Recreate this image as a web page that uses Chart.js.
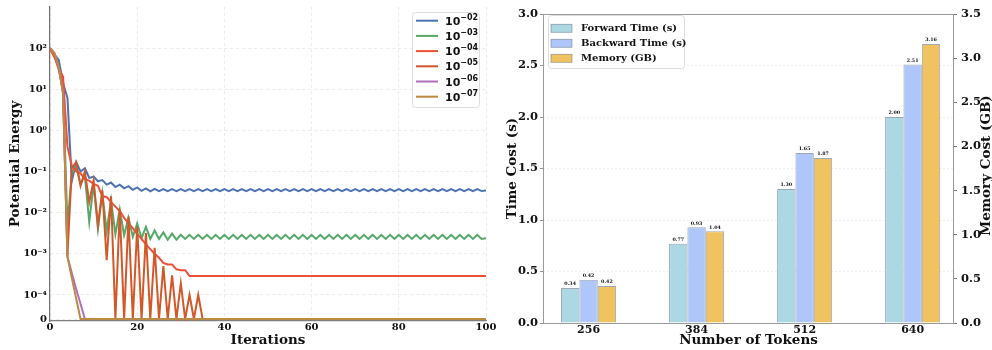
<!DOCTYPE html>
<html>
<head>
<meta charset="utf-8">
<script src="https://cdn.jsdelivr.net/npm/chart.js@4.4.1/dist/chart.umd.min.js"></script>
<style>
  html, body { margin: 0; padding: 0; background: #fff; }
  #wrap { position: relative; width: 992px; height: 350px; overflow: hidden; }
  canvas { position: absolute; top: 0; }
  #energy { left: 0; }
  #cost { left: 496px; }
</style>
</head>
<body>
<div id="wrap">
  <canvas id="energy" width="496" height="350"></canvas>
  <canvas id="cost" width="496" height="350"></canvas>
</div>
<script>
// ---------- left panel: potential energy per iteration (symlog y) ----------
const STEP_EXPONENTS = ['\u221202', '\u221203', '\u221204', '\u221205', '\u221206', '\u221207'];
const STEP_COLORS = ['#4c72b0', '#55a868', '#f0503a', '#d2582a', '#b070b8', '#bc8a42'];

const ENERGY_1E2 = [
  100, 70, 52, 14, 6.2, 0.058, 0.17, 0.1, 0.12, 0.07,
  0.075, 0.058, 0.062, 0.048, 0.054, 0.042, 0.048, 0.039, 0.044, 0.036,
  0.041, 0.034, 0.039, 0.033, 0.038, 0.0335, 0.0372, 0.0335, 0.0372, 0.0335,
  0.0372, 0.0335, 0.0372, 0.0335, 0.0372, 0.0335, 0.0372, 0.0335, 0.0372, 0.0335,
  0.0372, 0.0335, 0.0372, 0.0335, 0.0372, 0.0335, 0.0372, 0.0335, 0.0372, 0.0335,
  0.0372, 0.0335, 0.0372, 0.0335, 0.0372, 0.0335, 0.0372, 0.0335, 0.0372, 0.0335,
  0.0372, 0.0335, 0.0372, 0.0335, 0.0372, 0.0335, 0.0372, 0.0335, 0.0372, 0.0335,
  0.0372, 0.0335, 0.0372, 0.0335, 0.0372, 0.0335, 0.0372, 0.0335, 0.0372, 0.0335,
  0.0372, 0.0335, 0.0372, 0.0335, 0.0372, 0.0335, 0.0372, 0.0335, 0.0372, 0.0335,
  0.0372, 0.0335, 0.0372, 0.0335, 0.0372, 0.0335, 0.0372, 0.0335, 0.0372, 0.0335,
  0.0345
];
const ENERGY_1E3 = [
  100, 70, 30, 9, 0.005, 0.09, 0.13, 0.05, 0.08, 0.006,
  0.05, 0.004, 0.03, 0.0035, 0.02, 0.003, 0.012, 0.0028, 0.0075, 0.0026,
  0.0055, 0.0024, 0.0045, 0.0023, 0.0037, 0.0023, 0.0033, 0.0022, 0.0031, 0.0022,
  0.0029, 0.0023, 0.0029, 0.0023, 0.0029, 0.0023, 0.0029, 0.0023, 0.0029, 0.0023,
  0.0029, 0.0023, 0.0029, 0.0023, 0.0029, 0.0023, 0.0029, 0.0023, 0.0029, 0.0023,
  0.0029, 0.0023, 0.0029, 0.0023, 0.0029, 0.0023, 0.0029, 0.0023, 0.0029, 0.0023,
  0.0029, 0.0023, 0.0029, 0.0023, 0.0029, 0.0023, 0.0029, 0.0023, 0.0029, 0.0023,
  0.0029, 0.0023, 0.0029, 0.0023, 0.0029, 0.0023, 0.0029, 0.0023, 0.0029, 0.0023,
  0.0029, 0.0023, 0.0029, 0.0023, 0.0029, 0.0023, 0.0029, 0.0023, 0.0029, 0.0023,
  0.0029, 0.0023, 0.0029, 0.0023, 0.0029, 0.0023, 0.0029, 0.0023, 0.0029, 0.0023,
  0.0024
];
const ENERGY_1E4 = [
  95, 60, 32, 20, 0.4, 0.14, 0.1, 0.09, 0.065, 0.06,
  0.05, 0.045, 0.025, 0.024, 0.018, 0.014, 0.011, 0.0075, 0.0055, 0.0042,
  0.003, 0.0023, 0.0017, 0.0013, 0.001, 0.0008, 0.0006, 0.00055, 0.00055, 0.00042,
  0.0004, 0.0004, 0.00029, 0.00029, 0.00029, 0.00029, 0.00029, 0.00029, 0.00029, 0.00029,
  0.00029, 0.00029, 0.00029, 0.00029, 0.00029, 0.00029, 0.00029, 0.00029, 0.00029, 0.00029,
  0.00029, 0.00029, 0.00029, 0.00029, 0.00029, 0.00029, 0.00029, 0.00029, 0.00029, 0.00029,
  0.00029, 0.00029, 0.00029, 0.00029, 0.00029, 0.00029, 0.00029, 0.00029, 0.00029, 0.00029,
  0.00029, 0.00029, 0.00029, 0.00029, 0.00029, 0.00029, 0.00029, 0.00029, 0.00029, 0.00029,
  0.00029, 0.00029, 0.00029, 0.00029, 0.00029, 0.00029, 0.00029, 0.00029, 0.00029, 0.00029,
  0.00029, 0.00029, 0.00029, 0.00029, 0.00029, 0.00029, 0.00029, 0.00029, 0.00029, 0.00029,
  0.00029
];
const ENERGY_1E5 = [
  100, 75, 35, 8, 0.0009, 0.12, 0.17, 0.045, 0.1, 0.018,
  0.06, 0.005, 0.035, 0.0007, 0.025, 0, 0.012, 0, 0.008, 0,
  0.0046, 0, 0.0032, 0, 0.0014, 0, 0.0005, 0, 0.0003, 0,
  0.00019, 0, 0.0001, 0, 0.0001, 0, 0, 0, 0, 0,
  0, 0, 0, 0, 0, 0, 0, 0, 0, 0,
  0, 0, 0, 0, 0, 0, 0, 0, 0, 0,
  0, 0, 0, 0, 0, 0, 0, 0, 0, 0,
  0, 0, 0, 0, 0, 0, 0, 0, 0, 0,
  0, 0, 0, 0, 0, 0, 0, 0, 0, 0,
  0, 0, 0, 0, 0, 0, 0, 0, 0, 0,
  0
];
const ENERGY_1E6 = [
  100, 75, 35, 8.5, 0.00085, 0.00034, 0.00014, 0.000063, 0, 0,
  0, 0, 0, 0, 0, 0, 0, 0, 0, 0,
  0, 0, 0, 0, 0, 0, 0, 0, 0, 0,
  0, 0, 0, 0, 0, 0, 0, 0, 0, 0,
  0, 0, 0, 0, 0, 0, 0, 0, 0, 0,
  0, 0, 0, 0, 0, 0, 0, 0, 0, 0,
  0, 0, 0, 0, 0, 0, 0, 0, 0, 0,
  0, 0, 0, 0, 0, 0, 0, 0, 0, 0,
  0, 0, 0, 0, 0, 0, 0, 0, 0, 0,
  0, 0, 0, 0, 0, 0, 0, 0, 0, 0,
  0
];
const ENERGY_1E7 = [
  100, 75, 35, 8, 0.00085, 0.00026, 0.000085, 0, 0, 0,
  0, 0, 0, 0, 0, 0, 0, 0, 0, 0,
  0, 0, 0, 0, 0, 0, 0, 0, 0, 0,
  0, 0, 0, 0, 0, 0, 0, 0, 0, 0,
  0, 0, 0, 0, 0, 0, 0, 0, 0, 0,
  0, 0, 0, 0, 0, 0, 0, 0, 0, 0,
  0, 0, 0, 0, 0, 0, 0, 0, 0, 0,
  0, 0, 0, 0, 0, 0, 0, 0, 0, 0,
  0, 0, 0, 0, 0, 0, 0, 0, 0, 0,
  0, 0, 0, 0, 0, 0, 0, 0, 0, 0,
  0
];
const ENERGY_TICKS = [0, 1e-4, 1e-3, 1e-2, 1e-1, 1, 10, 100];

// ---------- right panel: cost per token count ----------
const TOKENS = [256, 384, 512, 640];
const FORWARD_TIME = [0.34, 0.77, 1.30, 2.00];
const BACKWARD_TIME = [0.42, 0.93, 1.65, 2.51];
const MEMORY_GB = [0.42, 1.04, 1.87, 3.16];

const SERIF = '"DejaVu Serif", serif';
const SANS = '"DejaVu Sans", sans-serif';

// symlog transform, linear part below 1e-4 takes ~0.585 decades
const LIN_THRESH = 1e-4, LIN_SCALE = 0.585;
function symT(v) {
  const a = Math.abs(v);
  const t = a <= LIN_THRESH ? a / LIN_THRESH * LIN_SCALE : LIN_SCALE + Math.log10(a / LIN_THRESH);
  return v < 0 ? -t : t;
}
function symInv(t) {
  const a = Math.abs(t);
  const v = a <= LIN_SCALE ? a / LIN_SCALE * LIN_THRESH : LIN_THRESH * Math.pow(10, a - LIN_SCALE);
  return t < 0 ? -v : v;
}

class SymlogScale extends Chart.LinearScale {
  buildTicks() {
    return ENERGY_TICKS.map(v => ({ value: v }));
  }
  configure() {
    super.configure();
    this._tLo = symT(this.min);
    this._tHi = symT(this.max);
  }
  getPixelForValue(v) {
    return this.getPixelForDecimal((symT(v) - this._tLo) / (this._tHi - this._tLo));
  }
  getValueForPixel(p) {
    return symInv(this._tLo + this.getDecimalForPixel(p) * (this._tHi - this._tLo));
  }
}
SymlogScale.id = 'symlog';
SymlogScale.defaults = Chart.LinearScale.defaults;
Chart.register(SymlogScale);

const SUP = { '0': '\u2070', '1': '\u00b9', '2': '\u00b2', '3': '\u00b3', '4': '\u2074', '-': '\u207b' };
function powLabel(v) {
  if (v === 0) return '0';
  return '10' + String(Math.round(Math.log10(v))).split('').map(c => SUP[c]).join('');
}

// legend box inside the top-right of the energy plot
const energyLegend = {
  id: 'energyLegend',
  afterDraw(chart) {
    const { ctx, chartArea } = chart;
    const x0 = chartArea.right - 74, y0 = chartArea.top + 5, w = 67, h = 95;
    ctx.save();
    ctx.fillStyle = 'rgba(255,255,255,0.85)';
    ctx.strokeStyle = '#dddddd';
    ctx.lineWidth = 1;
    ctx.beginPath();
    ctx.roundRect(x0 + 0.5, y0 + 0.5, w, h, 3);
    ctx.fill();
    ctx.stroke();
    chart.data.datasets.forEach((ds, i) => {
      const y = y0 + 8.7 + i * 15.2;
      ctx.strokeStyle = ds.borderColor;
      ctx.lineWidth = 2;
      ctx.beginPath();
      ctx.moveTo(x0 + 4, y);
      ctx.lineTo(x0 + 26, y);
      ctx.stroke();
      ctx.fillStyle = '#111';
      ctx.textBaseline = 'alphabetic';
      ctx.textAlign = 'left';
      ctx.font = 'bold 11px ' + SANS;
      ctx.fillText('10', x0 + 33, y + 4);
      const w10 = ctx.measureText('10').width;
      ctx.font = 'bold 8px ' + SANS;
      ctx.fillText(ds.label, x0 + 33 + w10, y - 1);
    });
    ctx.restore();
  }
};

const energySeries = [ENERGY_1E2, ENERGY_1E3, ENERGY_1E4, ENERGY_1E5, ENERGY_1E6, ENERGY_1E7];

new Chart(document.getElementById('energy'), {
  type: 'line',
  data: {
    datasets: energySeries.map((vals, i) => ({
      label: STEP_EXPONENTS[i],
      data: vals.map((v, k) => ({ x: k, y: v })),
      borderColor: STEP_COLORS[i],
      borderWidth: 2,
      pointRadius: 0,
      tension: 0,
      fill: false,
      order: energySeries.length - 1 - i
    }))
  },
  options: {
    responsive: false,
    animation: false,
    events: [],
    layout: { padding: { top: 7, right: 10, left: 0, bottom: 0 } },
    plugins: { legend: { display: false }, tooltip: { enabled: false } },
    scales: {
      x: {
        type: 'linear',
        min: 0,
        max: 100,
        ticks: { stepSize: 20, padding: 0, color: '#111', font: { family: SERIF, weight: 'bold', size: 10 }, maxRotation: 0 },
        grid: { color: '#e6e6e6', lineWidth: 0.8, drawTicks: false },
        border: { display: true, color: '#808080', width: 1.2, dash: [3, 3] },
        title: { display: true, text: 'Iterations', color: '#111', font: { family: SERIF, weight: 'bold', size: 13.5 }, padding: { top: 0, bottom: 1 } },
        afterFit: s => { s.height = 29; s.paddingLeft = 0; s.paddingRight = 0; }
      },
      y: {
        type: 'symlog',
        min: -0.0000083,
        max: 1000,
        ticks: { padding: 3, color: '#111', font: { family: SERIF, weight: 'bold', size: 10 }, callback: v => powLabel(v) },
        grid: { color: '#e6e6e6', lineWidth: 0.8, drawTicks: false },
        border: { display: true, color: '#707070', width: 1.2, dash: [3, 3] },
        title: { display: true, text: 'Potential Energy', color: '#111', font: { family: SERIF, weight: 'bold', size: 13.5 }, padding: { top: 7, bottom: 0 } },
        afterFit: s => { s.width = 50; s.paddingTop = 0; s.paddingBottom = 0; }
      }
    }
  },
  plugins: [energyLegend]
});

// legend box inside the top-left of the cost plot
const costLegend = {
  id: 'costLegend',
  afterDraw(chart) {
    const { ctx, chartArea } = chart;
    const x0 = chartArea.left + 5, y0 = chartArea.top + 1, w = 136, h = 53;
    ctx.save();
    ctx.fillStyle = 'rgba(255,255,255,0.85)';
    ctx.strokeStyle = '#dddddd';
    ctx.lineWidth = 1;
    ctx.beginPath();
    ctx.roundRect(x0 + 0.5, y0 + 0.5, w, h, 3);
    ctx.fill();
    ctx.stroke();
    chart.data.datasets.forEach((ds, i) => {
      const y = y0 + 13.3 + i * 15;
      ctx.fillStyle = ds.backgroundColor;
      ctx.fillRect(x0 + 3, y - 4, 21, 8);
      ctx.strokeStyle = ds.borderColor;
      ctx.lineWidth = 0.8;
      ctx.strokeRect(x0 + 3, y - 4, 21, 8);
      ctx.fillStyle = '#111';
      ctx.textBaseline = 'middle';
      ctx.textAlign = 'left';
      ctx.font = 'bold 10px ' + SERIF;
      ctx.fillText(ds.label, x0 + 33, y);
    });
    ctx.restore();
  }
};

// value labels above each bar
const barValues = {
  id: 'barValues',
  afterDatasetsDraw(chart) {
    const { ctx } = chart;
    ctx.save();
    ctx.fillStyle = '#111';
    ctx.textAlign = 'center';
    ctx.textBaseline = 'bottom';
    ctx.font = 'bold 4.8px ' + SERIF;
    chart.data.datasets.forEach((ds, di) => {
      chart.getDatasetMeta(di).data.forEach((bar, k) => {
        ctx.fillText(ds.data[k].y.toFixed(2), bar.x, bar.y - 1.5);
      });
    });
    ctx.restore();
  }
};

// full box frame and the right-hand axis title
const costFrame = {
  id: 'costFrame',
  afterDraw(chart) {
    const { ctx, chartArea } = chart;
    ctx.save();
    ctx.strokeStyle = '#9a9a9a';
    ctx.lineWidth = 1;
    ctx.strokeRect(chartArea.left + 0.5, chartArea.top + 0.5, chartArea.right - chartArea.left - 1, chartArea.bottom - chartArea.top);
    ctx.translate(490, (chartArea.top + chartArea.bottom) / 2 - 3);
    ctx.rotate(-Math.PI / 2);
    ctx.fillStyle = '#111';
    ctx.textAlign = 'center';
    ctx.textBaseline = 'middle';
    ctx.font = 'bold 13.5px ' + SERIF;
    ctx.fillText('Memory Cost (GB)', 0, 0);
    ctx.restore();
  }
};

const barEdge = 'rgba(95,110,130,0.6)';
const barCommon = { borderWidth: 1, borderColor: barEdge, categoryPercentage: 0.51, barPercentage: 1.0 };

new Chart(document.getElementById('cost'), {
  type: 'bar',
  data: {
    datasets: [
      Object.assign({ label: 'Forward Time (s)', data: TOKENS.map((t, i) => ({ x: t, y: FORWARD_TIME[i] })), backgroundColor: '#acd8e4', yAxisID: 'y' }, barCommon),
      Object.assign({ label: 'Backward Time (s)', data: TOKENS.map((t, i) => ({ x: t, y: BACKWARD_TIME[i] })), backgroundColor: '#afc6fa', yAxisID: 'y' }, barCommon),
      Object.assign({ label: 'Memory (GB)', data: TOKENS.map((t, i) => ({ x: t, y: MEMORY_GB[i] })), backgroundColor: '#f0c35e', yAxisID: 'y2' }, barCommon)
    ]
  },
  options: {
    responsive: false,
    animation: false,
    events: [],
    layout: { padding: { top: 14, right: 0, left: 0, bottom: 0 } },
    plugins: { legend: { display: false }, tooltip: { enabled: false } },
    scales: {
      x: {
        type: 'linear',
        offset: false,
        min: 202,
        max: 689,
        afterBuildTicks: s => { s.ticks = TOKENS.map(v => ({ value: v })); },
        ticks: { padding: 1, color: '#111', font: { family: SERIF, weight: 'bold', size: 11 }, maxRotation: 0, callback: v => String(v) },
        grid: { display: false, drawTicks: false },
        border: { display: false },
        title: { display: true, text: 'Number of Tokens', color: '#111', font: { family: SERIF, weight: 'bold', size: 13.5 }, padding: { top: 0, bottom: 1 } },
        afterFit: s => { s.height = 27; s.paddingLeft = 0; s.paddingRight = 0; }
      },
      y: {
        position: 'left',
        min: 0,
        max: 3,
        ticks: { stepSize: 0.5, padding: 2, color: '#111', font: { family: SERIF, weight: 'bold', size: 11.5 }, callback: v => v.toFixed(1) },
        grid: { color: '#ececec', lineWidth: 0.8, drawTicks: true, tickLength: 3, tickColor: '#777' },
        border: { display: false, dash: [2, 2] },
        title: { display: true, text: 'Time Cost (s)', color: '#111', font: { family: SERIF, weight: 'bold', size: 13.5 }, padding: { top: 8, bottom: 0 } },
        afterFit: s => { s.width = 47; s.paddingTop = 0; s.paddingBottom = 0; }
      },
      y2: {
        position: 'right',
        min: 0,
        max: 3.5,
        ticks: { stepSize: 0.5, padding: 4, color: '#111', font: { family: SERIF, weight: 'bold', size: 11.5 }, callback: v => v.toFixed(1) },
        grid: { drawOnChartArea: false, drawTicks: true, tickLength: 3, tickColor: '#777' },
        border: { display: false },
        afterFit: s => { s.width = 38; s.paddingTop = 0; s.paddingBottom = 0; }
      }
    }
  },
  plugins: [barValues, costLegend, costFrame]
});
</script>
</body>
</html>
